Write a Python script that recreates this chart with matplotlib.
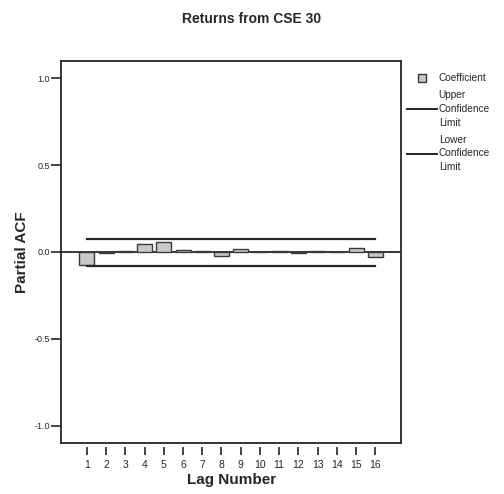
import matplotlib
matplotlib.use("Agg")
import matplotlib.pyplot as plt
from matplotlib.lines import Line2D

plt.rcParams["font.family"] = ["Liberation Sans", "DejaVu Sans"]

lags = list(range(1, 17))
pacf = [-0.075, -0.004, 0.008, 0.045, 0.058, 0.010, 0.004, -0.022,
        0.018, -0.003, 0.004, -0.004, 0.003, 0.002, 0.024, -0.030]
upper_limit = 0.072
lower_limit = -0.080
y_ticks = [-1.0, -0.5, 0.0, 0.5, 1.0]

ink = "#262626"

fig = plt.figure(figsize=(5.04, 4.94), dpi=100)
ax = fig.add_axes([0.121, 0.103, 0.675, 0.774])

ax.bar(lags, pacf, width=0.78, color="#c8c8c8", edgecolor="#3a3a3a", linewidth=1.0, zorder=3)
ax.axhline(0.0, color=ink, linewidth=1.3, zorder=2)
ax.plot([lags[0], lags[-1]], [upper_limit, upper_limit], color=ink, linewidth=1.6, zorder=4)
ax.plot([lags[0], lags[-1]], [lower_limit, lower_limit], color=ink, linewidth=1.6, zorder=4)

ax.set_xlim(-0.35, 17.35)
ax.set_ylim(-1.1, 1.1)
ax.set_xticks(lags)
ax.set_xticklabels([str(l) for l in lags])
ax.set_yticks(y_ticks)
ax.set_yticklabels([f"{v:.1f}" for v in y_ticks])
ax.tick_params(axis="y", direction="out", length=7, width=1.2, color=ink, pad=1,
               labelsize=6.5, labelcolor=ink)
ax.tick_params(axis="x", direction="out", length=6, width=1.2, color=ink, pad=3,
               labelsize=7.5, labelcolor=ink)
for s in ax.spines.values():
    s.set_linewidth(1.3)
    s.set_color(ink)

# x ticks hang a little below the frame
ax.spines["bottom"].set_position(("outward", 3))
ax.spines["bottom"].set_visible(False)
ax.plot([0, 1], [0, 0], transform=ax.transAxes, color=ink, linewidth=1.3, clip_on=False)

ax.set_xlabel("Lag Number", fontsize=11, fontweight="bold", color=ink, labelpad=2)
ax.set_ylabel("Partial ACF", fontsize=11, fontweight="bold", color=ink, labelpad=4)
fig.suptitle("Returns from CSE 30", x=0.5, y=0.975, fontsize=10, fontweight="bold", color=ink)

handles = [
    Line2D([0], [0], linestyle="none", marker="s", markersize=5.5,
           markerfacecolor="#c8c8c8", markeredgecolor="#3a3a3a", markeredgewidth=1.0),
    Line2D([0], [0], color=ink, linewidth=1.4),
    Line2D([0], [0], color=ink, linewidth=1.4),
]
labels = ["Coefficient", "Upper\nConfidence\nLimit", "Lower\nConfidence\nLimit"]
leg = fig.legend(handles, labels, loc="upper left", bbox_to_anchor=(0.79, 0.87),
                 frameon=False, fontsize=7.3, handlelength=2.9,
                 handletextpad=0.2, labelspacing=0.7, labelcolor=ink)
for t in leg.get_texts():
    t.set_linespacing(1.45)

fig.savefig("out.png", dpi=100)
